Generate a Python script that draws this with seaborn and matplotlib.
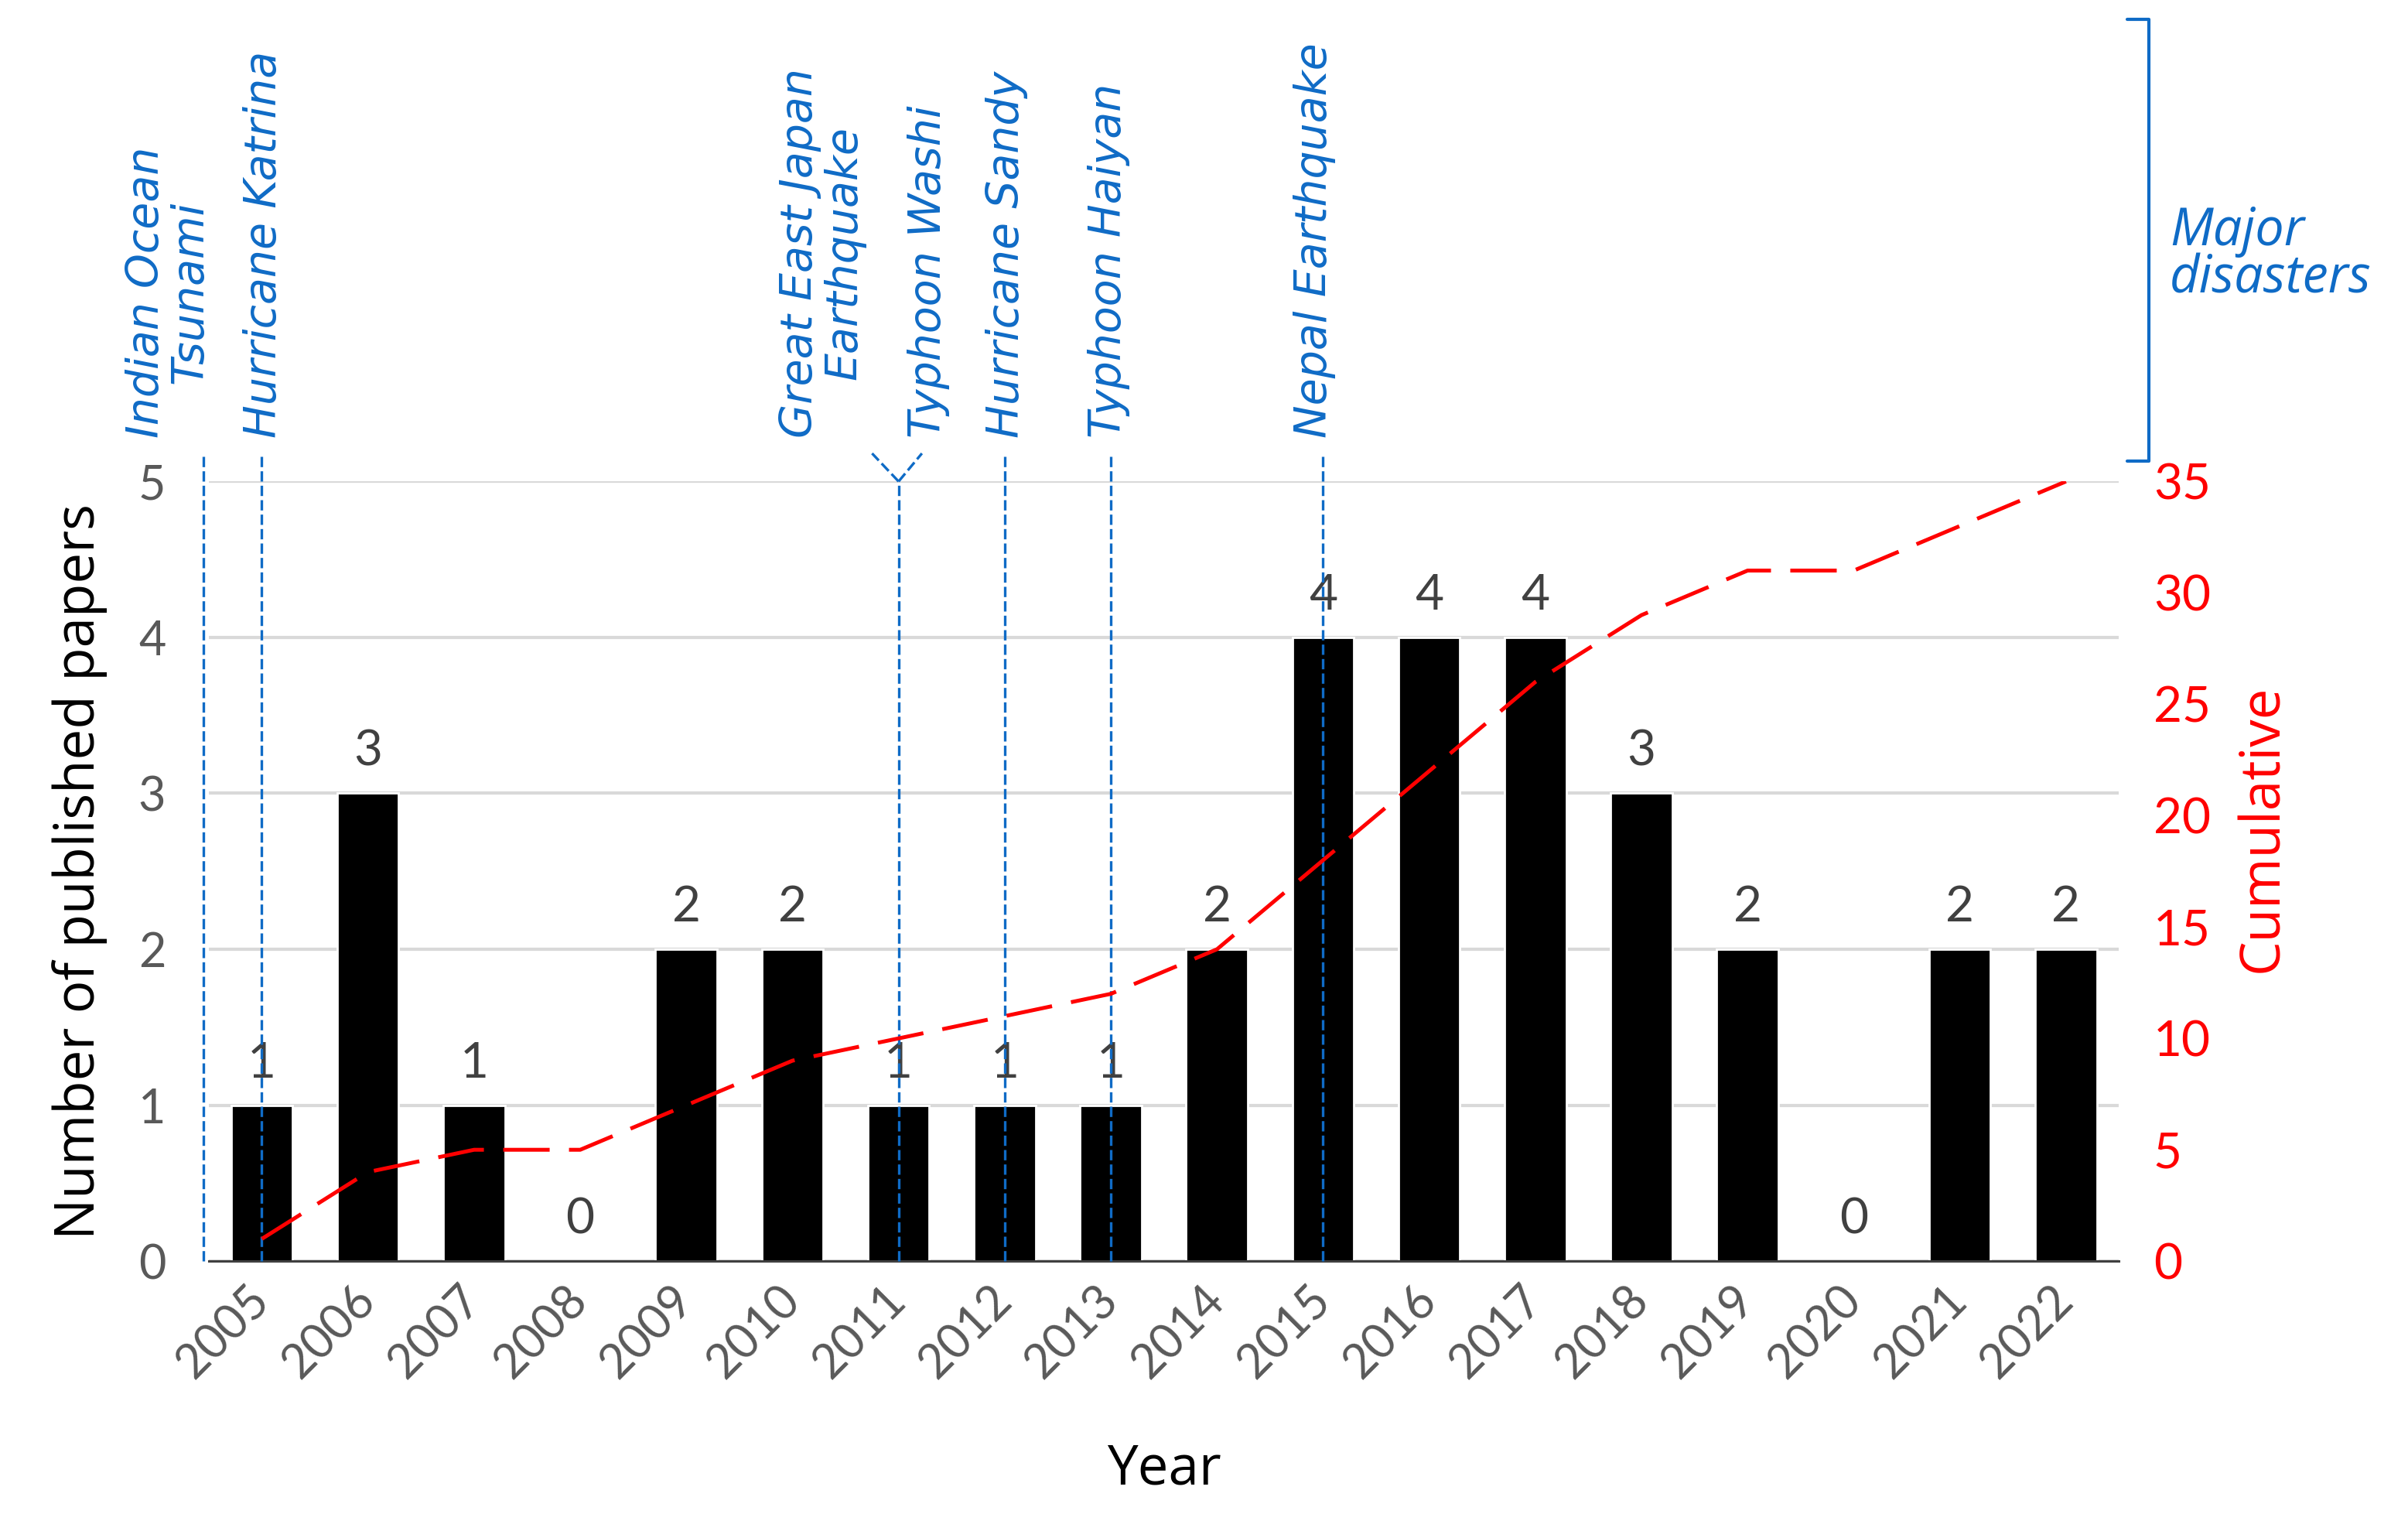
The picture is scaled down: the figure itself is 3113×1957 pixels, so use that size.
import numpy as np
import matplotlib
matplotlib.use('Agg')
import matplotlib.pyplot as plt
import seaborn as sb
from matplotlib.lines import Line2D

years = [str(y) for y in range(2005, 2023)]
papers = [1, 3, 1, 0, 2, 2, 1, 1, 1, 2, 4, 4, 4, 3, 2, 0, 2, 2]
cumulative = [1, 4, 5, 5, 7, 9, 10, 11, 12, 14, 18, 22, 26, 29, 31, 31, 33, 35]

# major disasters: label, position of the dashed line (category index), label centre
disasters = ['Indian Ocean\nTsunami', 'Hurricane Katrina', 'Great East Japan\nEarthquake',
             'Typhoon Washi', 'Hurricane Sandy', 'Typhoon Haiyan', 'Nepal Earthquake']
event_pos = [-0.55, 0, 6, 6, 7, 8, 10]
label_pos = [-0.88, 0.02, 5.28, 6.28, 7.02, 7.98, 9.92]

blue = '#0F6BC6'
gray = '#595959'

sb.set_style('white')
plt.rcParams['font.family'] = ['Lato', 'DejaVu Sans']

fig, ax = plt.subplots(figsize=(15.565, 9.785), dpi=200)
fig.subplots_adjust(left=0.0867, right=0.880, bottom=0.167, top=0.682)

sb.barplot(x=years, y=papers, color='black', saturation=1, width=0.58, ax=ax)
ax.set_xlim(-0.5, 17.5)
ax.set_ylim(0, 5)
ax.set_yticks(range(6))
ax.grid(axis='y', color='#D9D9D9', lw=1.5)
ax.set_axisbelow(True)
for s in ['left', 'right', 'top']:
    ax.spines[s].set_visible(False)
ax.spines['bottom'].set_color('#404040')
ax.spines['bottom'].set_linewidth(1.1)
ax.tick_params(axis='both', length=0, labelsize=22, labelcolor=gray)
ax.tick_params(axis='y', pad=20)
ax.tick_params(axis='x', pad=15)
plt.setp(ax.get_xticklabels(), rotation=45, ha='right', va='center', rotation_mode='anchor')

ax.bar_label(ax.containers[0], labels=[str(v) for v in papers], padding=9,
             fontsize=23, color='#404040')

ax.set_ylabel('Number of published papers', fontsize=25.5, family='Open Sans', color='black')
ax.yaxis.set_label_coords(-0.053, 0.5)
ax.set_xlabel('Year', fontsize=25.5, family='Open Sans', color='black')
ax.xaxis.set_label_coords(0.5, -0.232)

# cumulative on the right axis
ax2 = ax.twinx()
ax2.plot(np.arange(len(years)), cumulative, color='red', lw=1.8, linestyle=(0, (12, 5)))
ax2.set_ylim(0, 35)
ax2.set_yticks(range(0, 36, 5))
ax2.grid(False)
for s in ax2.spines.values():
    s.set_visible(False)
ax2.tick_params(axis='y', length=0, labelsize=23, labelcolor='red', pad=16)
ax2.set_ylabel('Cumulative', fontsize=25.5, family='Open Sans', color='red')
ax2.yaxis.set_label_coords(1.061, 0.555)

# disaster markers
dash = (0, (4, 1.6))
top = 5.18
for name, xp in zip(disasters, event_pos):
    if name.startswith('Great East'):
        ax.plot([xp, 5.75], [5.0, top], color=blue, lw=1.2, ls=dash, clip_on=False, zorder=5)
        continue
    if name == 'Typhoon Washi':
        ax.plot([xp, xp], [0, 5.0], color=blue, lw=1.2, ls=dash, clip_on=False, zorder=5)
        ax.plot([xp, 6.22], [5.0, top], color=blue, lw=1.2, ls=dash, clip_on=False, zorder=5)
    else:
        ax.plot([xp, xp], [0, top], color=blue, lw=1.2, ls=dash, clip_on=False, zorder=5)
for name, xl in zip(disasters, label_pos):
    ax.text(xl, 5.28, name, rotation=90, ha='center', va='bottom', color=blue,
            fontsize=20.5, family='DejaVu Sans', style='oblique', linespacing=1.05)

# bracket for major disasters
x0, x1 = 2778 / 3113, 2750 / 3113
yt, yb = 1 - 25 / 1957, 1 - 596 / 1957
fig.add_artist(Line2D([x1, x0, x0, x1], [yt, yt, yb, yb], transform=fig.transFigure,
                      color=blue, lw=1.5))
fig.text(2805 / 3113, 1 - 330 / 1957, 'Major\ndisasters', ha='left', va='center',
         color=blue, fontsize=24, family='Open Sans', style='italic', linespacing=0.9)

fig.savefig('out.png', dpi=200)
